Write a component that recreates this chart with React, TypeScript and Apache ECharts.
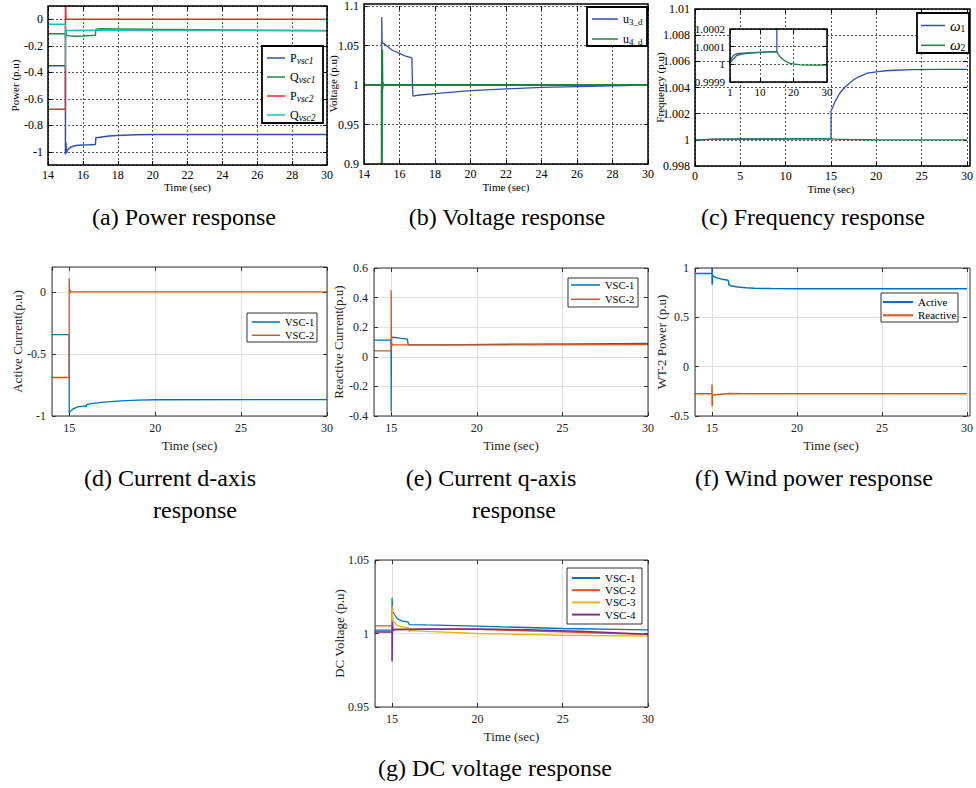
import React, { useEffect, useRef } from "react";
import * as echarts from "echarts";

const FONT = '"Liberation Serif", "Times New Roman", serif';

// ---------- (a) Power response ----------
const aPvsc1 = [[14,-0.35],[15,-0.35],[15,-1.02],[15.03,-0.93],[15.06,-1.01],[15.1,-0.99],[15.2,-0.975],[15.35,-0.962],[15.6,-0.953],[16,-0.949],[16.4,-0.947],[16.72,-0.945],[16.74,-0.895],[17,-0.89],[17.5,-0.882],[18,-0.877],[19,-0.872],[20,-0.87],[24,-0.869],[30,-0.87]];
const aQvsc1 = [[14,-0.11],[15,-0.11],[15,-0.14],[15.03,-0.09],[15.06,-0.12],[15.2,-0.125],[15.6,-0.128],[16,-0.127],[16.4,-0.123],[16.72,-0.12],[16.74,-0.075],[17,-0.072],[18,-0.073],[20,-0.076],[24,-0.081],[30,-0.086]];
const aPvsc2 = [[14,-0.68],[15,-0.68],[15,0.15],[15.03,0],[30,0]];
const aQvsc2 = [[14,-0.037],[15,-0.037],[15,-0.38],[15.02,-0.075],[15.06,-0.085],[16,-0.083],[30,-0.085]];

// ---------- (b) Voltage response ----------
const bU3d = [[14,1.0],[15,1.0],[15,1.086],[15.02,1.056],[15.05,1.053],[15.15,1.052],[15.3,1.049],[15.6,1.044],[16,1.04],[16.3,1.037],[16.6,1.035],[16.7,1.034],[16.73,1.0],[16.76,0.986],[17,0.987],[18,0.989],[20,0.993],[22,0.995],[24,0.997],[26,0.998],[28,0.999],[30,1.0]];
const bU4d = [[14,1.0],[15,1.0],[15,0.85],[15.02,1.045],[15.04,0.995],[15.07,1.003],[15.1,1.0],[30,1.0]];

// ---------- (c) Frequency response ----------
const cW1 = [[0,1.0],[1,1.00002],[2,1.00005],[3,1.00006],[5,1.000063],[8,1.000066],[12,1.00007],[15,1.00007],[15,1.0022],[15.2,1.0025],[15.5,1.003],[16,1.0036],[16.5,1.004],[17,1.0043],[17.5,1.0046],[18,1.0048],[19,1.0051],[20,1.0052],[21,1.00528],[22,1.00532],[24,1.00536],[27,1.00538],[30,1.00538]];
const cW2 = [[0,0.99998],[1,1.00001],[2,1.00003],[3,1.00005],[5,1.00006],[8,1.000065],[12,1.00007],[15,1.00007],[15.5,1.000055],[16,1.000042],[17,1.000025],[18,1.000013],[19,1.000006],[20,1.000002],[22,0.999997],[25,0.999995],[30,0.999995]];

// ---------- (d) Current d-axis ----------
const dVsc1 = [[14,-0.345],[15,-0.345],[15,-0.975],[15.05,-0.965],[15.2,-0.945],[15.5,-0.927],[15.95,-0.918],[16,-0.925],[16.02,-0.906],[16.5,-0.897],[17,-0.889],[18,-0.879],[19,-0.872],[20,-0.869],[30,-0.868]];
const dVsc2 = [[14,-0.69],[15,-0.69],[15,0.11],[15.02,-0.02],[15.04,0.02],[15.08,0],[30,0]];

// ---------- (e) Current q-axis ----------
const eVsc1 = [[14,0.112],[15,0.112],[15,-0.37],[15.02,0.13],[15.1,0.132],[15.5,0.126],[15.95,0.12],[16,0.08],[18,0.081],[22,0.085],[26,0.088],[30,0.09]];
const eVsc2 = [[14,0.04],[15,0.04],[15,0.45],[15.02,0.06],[15.04,0.09],[15.06,0.08],[30,0.082]];

// ---------- (f) Wind power response ----------
const fActive = [[14,0.943],[15,0.943],[15,1.0],[15.01,0.83],[15.03,0.93],[15.1,0.915],[15.3,0.9],[15.6,0.885],[15.95,0.875],[16,0.83],[16.1,0.82],[16.5,0.808],[17,0.8],[17.5,0.795],[18.5,0.791],[20,0.79],[30,0.79]];
const fReactive = [[14,-0.274],[15,-0.274],[15,-0.18],[15.01,-0.4],[15.03,-0.29],[15.2,-0.285],[16,-0.272],[17,-0.274],[30,-0.275]];

// ---------- (g) DC voltage response ----------
const gVsc1 = [[14,1.0023],[15,1.0023],[15,1.0243],[15.03,1.015],[15.1,1.0136],[15.3,1.0102],[15.6,1.0084],[15.95,1.0077],[16,1.0061],[17,1.0058],[20,1.005],[25,1.0034],[30,1.0025]];
const gVsc2 = [[14,1.0052],[15,1.0052],[15,1.003],[15.2,1.003],[20,1.0028],[25,1.0012],[30,0.9993]];
const gVsc3 = [[14,1.0011],[15,1.0011],[15,1.019],[15.03,1.012],[15.1,1.008],[15.3,1.0055],[15.6,1.0045],[15.95,1.004],[16,1.0012],[16.03,1.002],[17,1.0015],[20,1.0],[25,0.9988],[30,0.9982]];
const gVsc4 = [[14,1.001],[15,1.001],[15,0.981],[15.02,1.008],[15.05,1.002],[15.1,1.0025],[17,1.003],[20,1.003],[23,1.0025],[26,1.0015],[30,0.9995]];

const fmt = (v: number) => String(Number(v.toFixed(6)));

// plot rectangles [left, top, width, height]
const R: number[][] = [
  [48, 6, 279, 159],    // a
  [364, 4, 284, 160],   // b
  [695, 9, 275, 157],   // c
  [730, 29, 97, 53],    // c inset
  [52, 267, 275, 149],  // d
  [374, 268, 274, 148], // e
  [695, 268, 275, 148], // f
  [375, 560, 273, 147], // g
];
const OLD = [true, true, true, true, false, false, false, false];

const xSpec: any[] = [
  { min: 14, max: 30, interval: 2, name: "Time (sec)", nameGap: 16 },
  { min: 14, max: 30, interval: 2, name: "Time (sec)", nameGap: 17 },
  { min: 0, max: 30, interval: 5, name: "Time (sec)", nameGap: 17 },
  { min: 1, max: 30, splitNumber: 3, fs: 11 },
  { min: 14, max: 30, splitNumber: 3, name: "Time (sec)", nameGap: 23, hideMin: true },
  { min: 14, max: 30, splitNumber: 3, name: "Time (sec)", nameGap: 23, hideMin: true },
  { min: 14, max: 30, splitNumber: 3, name: "Time (sec)", nameGap: 23, hideMin: true },
  { min: 14, max: 30, splitNumber: 3, name: "Time (sec)", nameGap: 23, hideMin: true },
];
const ySpec: any[] = [
  { min: -1.1, max: 0.1, splitNumber: 6, name: "Power (p.u)", nameGap: 28, hideMin: true, hideMax: true },
  { min: 0.9, max: 1.1, interval: 0.05 },
  { min: 0.998, max: 1.01, interval: 0.002, name: "Frequency (p.u)", nameGap: 30 },
  { min: 0.9999, max: 1.0002, interval: 0.0001, fs: 11 },
  { min: -1, max: 0.2, interval: 0.5, name: "Active Current(p.u)", nameGap: 28, hideMax: true },
  { min: -0.4, max: 0.6, interval: 0.2, name: "Reactive Current(p.u)", nameGap: 29 },
  { min: -0.5, max: 1, interval: 0.5, name: "WT-2 Power (p.u)", nameGap: 27 },
  { min: 0.95, max: 1.05, interval: 0.05, name: "DC Voltage (p.u)", nameGap: 29 },
];

function line(name: string, data: number[][], color: string, ax: number, width: number, z = 2) {
  return {
    type: "line", name, data, xAxisIndex: ax, yAxisIndex: ax, symbol: "none", showSymbol: false,
    color, lineStyle: { color, width }, z, clip: true, animation: false,
  };
}

function axis(kind: "x" | "y", i: number, mirror: boolean) {
  const s = kind === "x" ? xSpec[i] : ySpec[i];
  const old = OLD[i];
  const z = i === 3 ? 6 : 0;
  const base: any = {
    type: "value", gridIndex: i, min: s.min, max: s.max, z,
    axisLine: { show: false, onZero: false },
    axisTick: { inside: true, length: 4, lineStyle: { color: old ? "#000" : "#333" } },
  };
  if (s.interval != null) base.interval = s.interval;
  if (s.splitNumber != null) base.splitNumber = s.splitNumber;
  if (mirror) {
    return { ...base, position: kind === "x" ? "top" : "right", axisLabel: { show: false }, splitLine: { show: false } };
  }
  return {
    ...base,
    position: kind === "x" ? "bottom" : "left",
    axisLabel: {
      fontFamily: FONT, fontSize: s.fs ?? 12, color: old ? "#000" : "#222",
      margin: old ? (kind === "x" ? 4 : 5) : 6, formatter: fmt,
      showMinLabel: s.hideMin ? false : undefined, showMaxLabel: s.hideMax ? false : undefined,
    },
    splitLine: old
      ? { show: true, lineStyle: { type: [2, 2], color: "#555", width: 1 } }
      : { show: true, lineStyle: { type: "solid", color: "#e0e0e0", width: 1 } },
    name: s.name, nameLocation: "middle", nameGap: s.nameGap, nameMoveOverlap: false,
    nameTextStyle: { fontFamily: FONT, fontSize: old ? 11 : 13, color: old ? "#000" : "#222" },
  };
}

function legend(names: string[], left: number, top: number, itemWidth: number, lineHeight: number, itemGap: number, fontSize: number, iconH: number, formatter?: any, rich?: any) {
  return {
    data: names, left, top, orient: "vertical", icon: "rect", itemWidth, itemHeight: iconH, itemGap, padding: 0,
    selectedMode: false, formatter, z: 10,
    textStyle: { fontFamily: FONT, fontSize, color: "#000", lineHeight, rich },
  };
}

function box(x: number, y: number, w: number, h: number, stroke: string, lw: number) {
  return { type: "rect", z: 9, silent: true, shape: { x, y, width: w, height: h }, style: { fill: "#fff", stroke, lineWidth: lw } };
}
function frame(r: number[], stroke: string, lw: number, z = 4) {
  return { type: "rect", z, silent: true, shape: { x: r[0], y: r[1], width: r[2], height: r[3] }, style: { fill: "none", stroke, lineWidth: lw } };
}
function caption(text: string, x: number, y: number) {
  return { type: "text", z: 5, x, y, style: { text, fontFamily: FONT, fontSize: 24, fill: "#000", align: "center", verticalAlign: "middle" } };
}

const subRich = { s: { fontFamily: FONT, fontSize: 9.5, fontStyle: "italic", padding: [5, 0, 0, 0] } };
const subRichU = { s: { fontFamily: FONT, fontSize: 9, padding: [5, 0, 0, 0] } };
const omegaRich = { w: { fontFamily: FONT, fontSize: 15, fontStyle: "italic" }, s: { fontFamily: FONT, fontSize: 9.5, padding: [6, 0, 0, 0] } };

const idx = [0, 1, 2, 3, 4, 5, 6, 7];

const option: any = {
  animation: false,
  backgroundColor: "#fff",
  grid: R.map((r, i) => ({ left: r[0], top: r[1], width: r[2], height: r[3], show: false, z: i === 3 ? 6 : 0 })),
  xAxis: [...idx.map((i) => axis("x", i, false)), ...idx.map((i) => axis("x", i, true))],
  yAxis: [...idx.map((i) => axis("y", i, false)), ...idx.map((i) => axis("y", i, true))],
  legend: [
    legend(["P_vsc1", "Q_vsc1", "P_vsc2", "Q_vsc2"], 267, 51, 18, 14, 4.5, 12, 1.5, (n: string) => n[0] + "{s|" + n.slice(2) + "}", subRich),
    legend(["u3_d", "u4_d"], 592, 12, 26, 14, 6, 12, 1.5, (n: string) => "u{s|" + n.slice(1) + "}", subRichU),
    legend(["ω1", "ω2"], 921, 18, 24, 14, 4.3, 12, 1.5, (n: string) => "{w|ω}{s|" + n.slice(1) + "}", omegaRich),
    legend(["VSC-1", "VSC-2"], 252, 316, 28, 12, 1.3, 10.5, 1.5),
    legend(["VSC-1", "VSC-2"], 571, 279, 29, 12, 2.3, 10.5, 1.5),
    legend(["Active", "Reactive"], 883, 296, 30, 12, 1.3, 11, 2),
    legend(["VSC-1", "VSC-2", "VSC-3", "VSC-4"], 572, 572, 28, 12, 0.2, 11, 2),
  ],
  graphic: [
    frame(R[0], "#000", 1.5),
    frame(R[1], "#000", 1.5),
    frame(R[2], "#000", 1.5),
    { type: "rect", z: 5, silent: true, shape: { x: R[3][0], y: R[3][1], width: R[3][2], height: R[3][3] }, style: { fill: "#fff" } },
    frame(R[3], "#000", 1.5, 8),
    frame(R[4], "#333", 1),
    frame(R[5], "#333", 1),
    frame(R[6], "#333", 1),
    frame(R[7], "#333", 1),
    box(262, 46, 61, 77, "#000", 1.8),
    box(587, 7, 60, 39, "#000", 1.8),
    box(917, 13, 52, 40, "#000", 1.8),
    box(247, 313, 70, 29, "#333", 1),
    box(568, 278, 70, 29, "#333", 1),
    box(881, 293, 77, 29, "#333", 1),
    box(567, 568, 75, 56, "#333", 1),
    {
      type: "text", z: 5, x: 333, y: 84, rotation: Math.PI / 2,
      style: { text: "Voltage (p.u)", fontFamily: FONT, fontSize: 11, fill: "#000", align: "center", verticalAlign: "middle" },
    },
    caption("(a) Power response", 184, 217),
    caption("(b) Voltage response", 507, 217),
    caption("(c) Frequency response", 813, 217),
    caption("(d) Current d-axis", 170, 478),
    caption("response", 195, 510),
    caption("(e) Current q-axis", 491, 478),
    caption("response", 514, 510),
    caption("(f) Wind power response", 814, 478),
    caption("(g) DC voltage response", 495, 768),
  ],
  series: [
    line("P_vsc1", aPvsc1, "#2f4fb0", 0, 1.5),
    line("Q_vsc1", aQvsc1, "#1f8a4c", 0, 1.5),
    line("P_vsc2", aPvsc2, "#f0282a", 0, 1.5),
    line("Q_vsc2", aQvsc2, "#22bcbc", 0, 1.5),
    line("u3_d", bU3d, "#2f4fb0", 1, 1.3),
    line("u4_d", bU4d, "#15843f", 1, 2),
    line("ω1", cW1, "#3050b8", 2, 1.3),
    line("ω2", cW2, "#1e7f45", 2, 1.3),
    line("ω1", cW1, "#3050b8", 3, 1.3, 7),
    line("ω2", cW2, "#1e7f45", 3, 1.3, 7),
    line("VSC-1", dVsc1, "#0072bd", 4, 1.3),
    line("VSC-2", dVsc2, "#d95319", 4, 1.3),
    line("VSC-1", eVsc1, "#0072bd", 5, 1.3),
    line("VSC-2", eVsc2, "#d95319", 5, 1.3),
    line("Active", fActive, "#0072bd", 6, 1.5),
    line("Reactive", fReactive, "#d95319", 6, 1.5),
    line("VSC-1", gVsc1, "#0072bd", 7, 1.3),
    line("VSC-2", gVsc2, "#d95319", 7, 1.3),
    line("VSC-3", gVsc3, "#edb120", 7, 1.3),
    line("VSC-4", gVsc4, "#7e2f8e", 7, 1.6),
  ],
};

export default function App() {
  const ref = useRef<HTMLDivElement>(null);
  useEffect(() => {
    const chart = echarts.init(ref.current!, null, { renderer: "svg" });
    chart.setOption(option);
    return () => chart.dispose();
  }, []);
  return (
    <div
      ref={ref}
      style={{ position: "fixed", left: 0, top: 0, width: 976, height: 788, background: "#fff" }}
    />
  );
}
